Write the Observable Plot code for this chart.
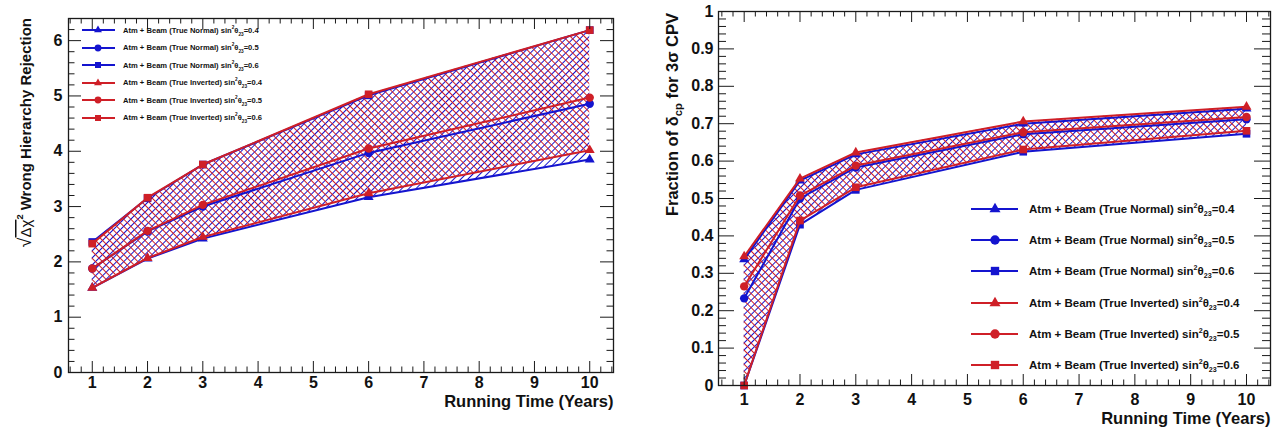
<!DOCTYPE html>
<html>
<head>
<meta charset="utf-8">
<script src="https://cdn.jsdelivr.net/npm/d3@7"></script>
<script src="https://cdn.jsdelivr.net/npm/@observablehq/plot@0.6"></script>
<style>
html, body { margin: 0; padding: 0; background: #fff; overflow: hidden; }
#page { position: relative; width: 1283px; height: 429px; font-family: "Liberation Sans", Arial, Helvetica, sans-serif; }
.panel { position: absolute; top: 0; }
.row { position: absolute; display: flex; align-items: center; font-weight: bold; color: #111; white-space: nowrap; }
.row svg { flex: none; }
sup, sub { font-size: 62%; line-height: 0; }
</style>
</head>
<body>
<div id="page"></div>
<script>
// ---------- data ----------
const years = [1, 2, 3, 6, 10];
const xTicks = [1, 2, 3, 4, 5, 6, 7, 8, 9, 10];
const hierYTicks = [0, 1, 2, 3, 4, 5, 6];
const cpvYTicks = [0, 0.1, 0.2, 0.3, 0.4, 0.5, 0.6, 0.7, 0.8, 0.9, 1];

const seriesLabels = [
  "Atm + Beam (True Normal)", "Atm + Beam (True Normal)", "Atm + Beam (True Normal)",
  "Atm + Beam (True Inverted)", "Atm + Beam (True Inverted)", "Atm + Beam (True Inverted)"
];
const seriesTheta = ["0.4", "0.5", "0.6", "0.4", "0.5", "0.6"];

// Left: sqrt(Δχ²) wrong hierarchy rejection
const hierNH04 = [1.53, 2.06, 2.42, 3.17, 3.85];
const hierNH05 = [1.88, 2.55, 3.00, 3.97, 4.86];
const hierNH06 = [2.36, 3.15, 3.76, 5.01, 6.19];
const hierIH04 = [1.53, 2.07, 2.45, 3.24, 4.02];
const hierIH05 = [1.88, 2.56, 3.03, 4.05, 4.97];
const hierIH06 = [2.33, 3.16, 3.76, 5.03, 6.19];

// Right: fraction of δcp for 3σ CPV
const cpvNH04 = [0.337, 0.548, 0.618, 0.700, 0.740];
const cpvNH05 = [0.233, 0.500, 0.583, 0.672, 0.712];
const cpvNH06 = [0.000, 0.430, 0.523, 0.625, 0.673];
const cpvIH04 = [0.345, 0.553, 0.623, 0.706, 0.745];
const cpvIH05 = [0.265, 0.508, 0.588, 0.677, 0.718];
const cpvIH06 = [0.000, 0.441, 0.530, 0.631, 0.681];

// ---------- style ----------
const BLUE = "#1414cf", RED = "#cf1f27", INK = "#1a1a1a";
const seriesColors = [BLUE, BLUE, BLUE, RED, RED, RED];
const seriesSymbols = ["triangle", "circle", "square", "triangle", "circle", "square"];
const seriesR = [3.7, 4.2, 4.3, 3.7, 4.2, 4.3];
const symbolTypes = [d3.symbolTriangle, d3.symbolCircle, d3.symbolSquare, d3.symbolTriangle, d3.symbolCircle, d3.symbolSquare];
const FONT = '"Liberation Sans", Arial, Helvetica, sans-serif';
const page = document.getElementById("page");

function makePanel(cfg) {
  const {width, height, ml, mr, mt, mb} = cfg;
  const innerW = width - ml - mr, innerH = height - mt - mb;
  const v = cfg.values;
  const band = years.map((yr, j) => ({year: yr, nLo: v[0][j], nHi: v[2][j], iLo: v[3][j], iHi: v[5][j]}));
  const inX = (t) => t > cfg.xDomain[0] && t < cfg.xDomain[1];
  const inY = (t) => t >= cfg.yDomain[0] && t <= cfg.yDomain[1];
  const xMinor = d3.range(2, 53).filter(k => k % 5 !== 0).map(k => k / 5).filter(inX);
  const yMinor = d3.range(0, cfg.yMinorCount + 1).filter(k => k % 5 !== 0).map(k => k * cfg.yMinorStep).filter(inY);

  const marks = [
    Plot.areaY(band, {x: "year", y1: "nLo", y2: "nHi", fill: `url(#${cfg.id}-hb)`}),
    Plot.areaY(band, {x: "year", y1: "iLo", y2: "iHi", fill: `url(#${cfg.id}-hr)`})
  ];
  v.forEach((vals, i) => {
    const data = years.map((yr, j) => ({year: yr, value: vals[j]}));
    marks.push(Plot.line(data, {x: "year", y: "value", stroke: seriesColors[i], strokeWidth: 2}));
    marks.push(Plot.dot(data, {x: "year", y: "value", symbol: seriesSymbols[i], fill: seriesColors[i], stroke: "none", r: seriesR[i]}));
  });
  // inward ticks on all four sides
  marks.push(
    Plot.tickX(xTicks, {x: d => d, insetTop: innerH - cfg.xMaj, stroke: INK}),
    Plot.tickX(xTicks, {x: d => d, insetBottom: innerH - cfg.xMaj, stroke: INK}),
    Plot.tickX(xMinor, {x: d => d, insetTop: innerH - cfg.xMaj / 2, stroke: INK}),
    Plot.tickX(xMinor, {x: d => d, insetBottom: innerH - cfg.xMaj / 2, stroke: INK}),
    Plot.tickY(cfg.yTicks, {y: d => d, insetRight: innerW - cfg.yMaj, stroke: INK}),
    Plot.tickY(cfg.yTicks, {y: d => d, insetLeft: innerW - cfg.yMaj, stroke: INK}),
    Plot.tickY(yMinor, {y: d => d, insetRight: innerW - cfg.yMaj / 2, stroke: INK}),
    Plot.tickY(yMinor, {y: d => d, insetLeft: innerW - cfg.yMaj / 2, stroke: INK}),
    Plot.frame({stroke: INK, strokeWidth: 1.3}),
    Plot.axisX({ticks: xTicks, tickSize: 0, tickPadding: cfg.xPad, label: null, tickFormat: d3.format("~g"), fontWeight: "bold"}),
    Plot.axisY({ticks: cfg.yTicks, tickSize: 0, tickPadding: cfg.yPad, label: null, tickFormat: d3.format("~g"), fontWeight: "bold"}),
    Plot.text(["Running Time (Years)"], {text: d => d, frameAnchor: "bottom-right", textAnchor: "end", lineAnchor: "middle", dy: cfg.xLabelDy, fontSize: 16.5, fontWeight: "bold", fill: "#111"})
  );

  const svg = Plot.plot({
    width, height,
    marginLeft: ml, marginRight: mr, marginTop: mt, marginBottom: mb,
    x: {domain: cfg.xDomain, axis: null},
    y: {domain: cfg.yDomain, axis: null},
    style: {fontFamily: FONT, fontSize: "16px", fontWeight: "bold", color: "#111", background: "transparent"},
    marks
  });

  // hatch patterns
  const defs = d3.select(svg).insert("defs", ":first-child");
  const pat = (id, color, angle) => {
    const p = defs.append("pattern").attr("id", id).attr("patternUnits", "userSpaceOnUse")
      .attr("width", 5).attr("height", 5).attr("patternTransform", `rotate(${angle})`);
    p.append("line").attr("x1", 2.5).attr("x2", 2.5).attr("y1", 0).attr("y2", 5)
      .attr("stroke", color).attr("stroke-width", 1);
  };
  pat(`${cfg.id}-hb`, BLUE, 45);
  pat(`${cfg.id}-hr`, RED, -45);

  // rotated y-axis title (aligned to the top of the frame)
  const t = d3.select(svg).append("text")
    .attr("transform", `translate(${cfg.yLabelX},${cfg.yLabelY}) rotate(-90)`)
    .attr("text-anchor", "end").attr("dominant-baseline", "central")
    .attr("font-size", cfg.yLabelSize).attr("font-weight", "bold").attr("fill", "#111")
    .attr("font-family", FONT);
  cfg.buildYLabel(t, cfg.yLabelSize);

  const wrap = document.createElement("div");
  wrap.className = "panel";
  wrap.style.left = cfg.left + "px";
  wrap.appendChild(svg);
  page.appendChild(wrap);
}

function makeLegend(cfg) {
  cfg.rows.forEach((yc, i) => {
    const row = d3.select(page).append("div").attr("class", "row")
      .style("left", cfg.x0 + "px").style("top", (yc - cfg.h / 2) + "px")
      .style("height", cfg.h + "px").style("font-size", cfg.font + "px");
    const sw = cfg.textX - cfg.x0;
    const s = row.append("svg").attr("width", sw).attr("height", cfg.h);
    s.append("line").attr("x1", 0).attr("x2", cfg.lineLen).attr("y1", cfg.h / 2).attr("y2", cfg.h / 2)
      .attr("stroke", seriesColors[i]).attr("stroke-width", cfg.lw);
    const size = cfg.msize * (i % 3 === 0 ? 0.75 : 1);
    s.append("path").attr("transform", `translate(${cfg.markX},${cfg.h / 2})`)
      .attr("d", d3.symbol(symbolTypes[i], size)()).attr("fill", seriesColors[i]);
    row.append("span").html(`${seriesLabels[i]} sin<sup>2</sup>θ<sub>23</sub>=${seriesTheta[i]}`);
  });
}

makePanel({
  id: "hier", left: 0, width: 645, height: 429, ml: 68, mr: 32, mt: 18, mb: 57,
  xDomain: [0.57, 10.43], yDomain: [0, 6.4],
  values: [hierNH04, hierNH05, hierNH06, hierIH04, hierIH05, hierIH06],
  yTicks: hierYTicks, yMinorCount: 32, yMinorStep: 0.2,
  xMaj: 11, yMaj: 13, xPad: 4, yPad: 6, xLabelDy: 29,
  yLabelX: 25, yLabelY: 18, yLabelSize: 15,
  buildYLabel: (t, s) => {
    t.append("tspan").attr("font-weight", "normal").attr("font-size", s * 1.2).text("√");
    t.append("tspan").attr("font-weight", "normal").attr("text-decoration", "overline").text("Δχ");
    t.append("tspan").attr("font-size", s * 0.62).attr("baseline-shift", "super").text("2");
    t.append("tspan").text(" Wrong Hierarchy Rejection");
  }
});

makePanel({
  id: "cpv", left: 645, width: 638, height: 429, ml: 73, mr: 13, mt: 11, mb: 44,
  xDomain: [0.54, 10.43], yDomain: [0, 1],
  values: [cpvNH04, cpvNH05, cpvNH06, cpvIH04, cpvIH05, cpvIH06],
  yTicks: cpvYTicks, yMinorCount: 50, yMinorStep: 0.02,
  xMaj: 11, yMaj: 16, xPad: 8, yPad: 5, xLabelDy: 33,
  yLabelX: 27, yLabelY: 13, yLabelSize: 16.5,
  buildYLabel: (t, s) => {
    t.append("tspan").text("Fraction of δ");
    t.append("tspan").attr("font-size", s * 0.68).attr("baseline-shift", "sub").text("cp");
    t.append("tspan").text(" for 3σ CPV");
  }
});

makeLegend({rows: [30, 47.5, 65, 82.5, 100, 117.5], x0: 82, lineLen: 33, markX: 16, textX: 123, h: 12, font: 7.6, lw: 2, msize: 36});
makeLegend({rows: [209, 240.2, 271.4, 302.6, 333.8, 365], x0: 971, lineLen: 47, markX: 24, textX: 1029, h: 16, font: 11.5, lw: 2, msize: 70});
</script>
</body>
</html>
